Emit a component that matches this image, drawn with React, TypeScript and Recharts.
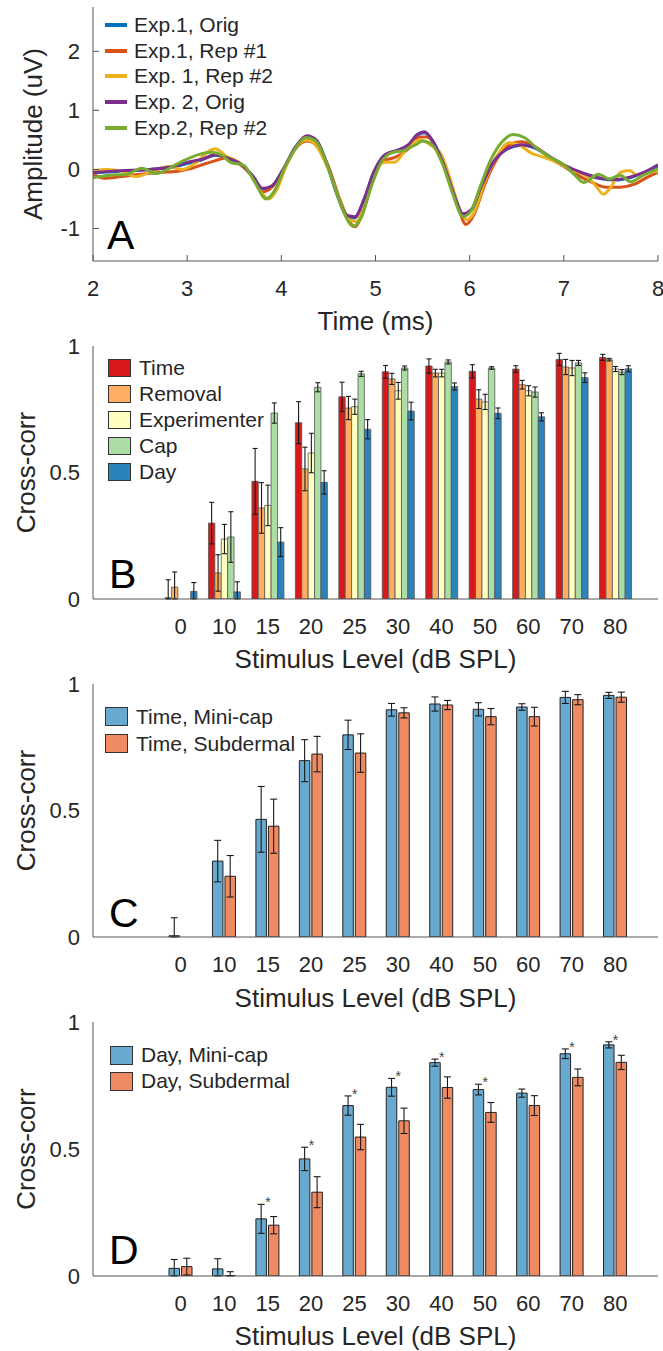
import React from "react";
import {
  LineChart, Line, BarChart, Bar, XAxis, YAxis, ErrorBar, LabelList, Legend,
} from "recharts";

const FONT = '"Liberation Sans", Arial, Helvetica, sans-serif';
const INK = "#262626";
const FRAME = "#555555";
const W = 663;

// ---- A: ABR waveforms, [time ms, amplitude uV]
const exp1Orig = [[2.0,-0.06],[2.3,-0.03],[2.6,0.0],[2.85,0.04],[3.0,0.1],[3.15,0.16],[3.3,0.24],[3.45,0.18],[3.58,0.08],[3.7,-0.12],[3.8,-0.33],[3.9,-0.28],[4.02,0.0],[4.15,0.37],[4.27,0.55],[4.37,0.49],[4.48,0.1],[4.6,-0.46],[4.7,-0.8],[4.78,-0.82],[4.88,-0.5],[4.98,-0.06],[5.1,0.24],[5.22,0.31],[5.35,0.41],[5.45,0.59],[5.52,0.62],[5.6,0.5],[5.72,0.1],[5.84,-0.46],[5.93,-0.76],[6.02,-0.68],[6.12,-0.3],[6.25,0.12],[6.38,0.33],[6.55,0.41],[6.68,0.37],[6.85,0.21],[7.0,0.07],[7.2,-0.07],[7.4,-0.16],[7.55,-0.18],[7.7,-0.14],[7.85,-0.06],[8.0,0.06]];
const exp1Rep1 = [[2.0,-0.08],[2.12,-0.15],[2.3,-0.12],[2.5,-0.08],[2.7,-0.05],[2.9,-0.03],[3.05,0.02],[3.2,0.1],[3.3,0.15],[3.42,0.2],[3.55,0.1],[3.68,-0.1],[3.8,-0.38],[3.9,-0.3],[4.02,0.0],[4.15,0.35],[4.27,0.48],[4.37,0.42],[4.5,0.05],[4.62,-0.5],[4.72,-0.88],[4.78,-0.97],[4.86,-0.75],[4.96,-0.25],[5.08,0.15],[5.2,0.2],[5.35,0.35],[5.47,0.55],[5.55,0.55],[5.65,0.35],[5.76,-0.1],[5.87,-0.6],[5.96,-0.93],[6.05,-0.75],[6.15,-0.3],[6.28,0.15],[6.42,0.42],[6.55,0.47],[6.7,0.38],[6.85,0.2],[7.0,0.05],[7.15,-0.1],[7.3,-0.22],[7.45,-0.3],[7.6,-0.3],[7.75,-0.25],[7.9,-0.12],[8.0,-0.05]];
const exp1Rep2 = [[2.0,-0.02],[2.15,0.0],[2.3,-0.03],[2.45,-0.12],[2.6,-0.05],[2.8,0.05],[2.95,0.0],[3.1,0.12],[3.22,0.3],[3.3,0.35],[3.42,0.22],[3.55,0.12],[3.68,-0.1],[3.8,-0.42],[3.87,-0.5],[3.95,-0.35],[4.05,0.05],[4.17,0.4],[4.27,0.5],[4.37,0.4],[4.5,0.0],[4.62,-0.5],[4.72,-0.85],[4.8,-0.88],[4.9,-0.45],[5.0,0.0],[5.1,0.12],[5.2,0.12],[5.33,0.35],[5.47,0.5],[5.58,0.42],[5.7,0.25],[5.8,-0.2],[5.9,-0.7],[5.97,-0.85],[6.05,-0.72],[6.15,-0.25],[6.28,0.2],[6.42,0.45],[6.52,0.42],[6.65,0.28],[6.8,0.2],[6.95,0.1],[7.1,-0.02],[7.25,-0.12],[7.35,-0.3],[7.42,-0.42],[7.5,-0.3],[7.6,-0.05],[7.7,-0.02],[7.78,-0.1],[7.88,-0.05],[8.0,-0.03]];
const exp2Orig = [[2.0,-0.05],[2.3,-0.02],[2.6,0.0],[2.85,0.05],[3.0,0.12],[3.15,0.17],[3.3,0.25],[3.45,0.18],[3.58,0.08],[3.7,-0.12],[3.8,-0.32],[3.9,-0.28],[4.02,0.0],[4.15,0.38],[4.27,0.57],[4.37,0.5],[4.48,0.12],[4.6,-0.45],[4.7,-0.78],[4.78,-0.8],[4.88,-0.5],[4.98,-0.05],[5.1,0.25],[5.22,0.32],[5.35,0.42],[5.45,0.6],[5.52,0.64],[5.6,0.5],[5.72,0.1],[5.84,-0.45],[5.93,-0.75],[6.02,-0.68],[6.12,-0.3],[6.25,0.12],[6.38,0.33],[6.55,0.42],[6.68,0.38],[6.85,0.22],[7.0,0.08],[7.2,-0.06],[7.4,-0.15],[7.55,-0.17],[7.7,-0.13],[7.85,-0.05],[8.0,0.08]];
const exp2Rep2 = [[2.0,-0.14],[2.18,-0.1],[2.36,-0.08],[2.52,0.02],[2.67,-0.07],[2.9,0.1],[3.12,0.25],[3.26,0.29],[3.37,0.24],[3.46,0.12],[3.6,0.07],[3.71,-0.19],[3.84,-0.5],[3.92,-0.38],[4.04,0.04],[4.16,0.38],[4.26,0.54],[4.36,0.49],[4.47,0.15],[4.58,-0.36],[4.67,-0.75],[4.76,-0.96],[4.85,-0.81],[4.94,-0.36],[5.06,0.12],[5.17,0.28],[5.3,0.32],[5.44,0.43],[5.5,0.48],[5.6,0.42],[5.71,0.1],[5.82,-0.41],[5.93,-0.8],[6.02,-0.69],[6.11,-0.3],[6.22,0.15],[6.34,0.46],[6.46,0.59],[6.58,0.54],[6.72,0.35],[6.85,0.21],[7.01,0.07],[7.12,-0.1],[7.21,-0.22],[7.37,-0.08],[7.48,-0.16],[7.6,-0.1],[7.71,-0.21],[7.84,-0.1],[8.0,0.01]];

const traces = [
  { name: "Exp.1, Orig", color: "#0072BD", pts: exp1Orig },
  { name: "Exp.1, Rep #1", color: "#D95319", pts: exp1Rep1 },
  { name: "Exp. 1, Rep #2", color: "#EDB120", pts: exp1Rep2 },
  { name: "Exp. 2, Orig", color: "#7E2F8E", pts: exp2Orig },
  { name: "Exp.2, Rep #2", color: "#77AC30", pts: exp2Rep2 },
];
const timeTicks = [2, 3, 4, 5, 6, 7, 8];
const ampTicks = [-1, 0, 1, 2];

// ---- B-D: cross-correlation by stimulus level
const levels = ["0", "10", "15", "20", "25", "30", "40", "50", "60", "70", "80"];
const timeMini = [0.005, 0.30, 0.465, 0.697, 0.799, 0.898, 0.921, 0.9, 0.909, 0.947, 0.955];
const timeMiniErr = [0.071, 0.082, 0.13, 0.083, 0.058, 0.025, 0.028, 0.026, 0.013, 0.024, 0.012];
const removal = [0.047, 0.103, 0.36, 0.514, 0.755, 0.87, 0.893, 0.79, 0.847, 0.917, 0.946];
const removalErr = [0.06, 0.072, 0.10, 0.086, 0.046, 0.022, 0.015, 0.037, 0.017, 0.03, 0.005];
const experimenter = [null, 0.237, 0.37, 0.577, 0.76, 0.823, 0.893, 0.779, 0.823, 0.913, 0.909];
const experimenterErr = [0, 0.058, 0.08, 0.078, 0.03, 0.033, 0.015, 0.03, 0.02, 0.03, 0.01];
const cap = [null, 0.245, 0.735, 0.837, 0.89, 0.913, 0.937, 0.913, 0.818, 0.933, 0.897];
const capErr = [0, 0.1, 0.04, 0.018, 0.01, 0.008, 0.008, 0.005, 0.02, 0.01, 0.01];
const dayMini = [0.03, 0.028, 0.225, 0.461, 0.671, 0.743, 0.84, 0.734, 0.72, 0.875, 0.91];
const dayMiniErr = [0.035, 0.04, 0.057, 0.046, 0.038, 0.035, 0.014, 0.021, 0.016, 0.019, 0.012];
const timeSub = [null, 0.24, 0.438, 0.723, 0.727, 0.886, 0.917, 0.871, 0.871, 0.938, 0.948];
const timeSubErr = [0, 0.082, 0.107, 0.07, 0.076, 0.02, 0.018, 0.032, 0.037, 0.02, 0.02];
const daySub = [0.037, 0.002, 0.20, 0.33, 0.547, 0.611, 0.742, 0.644, 0.671, 0.782, 0.841];
const daySubErr = [0.033, 0.015, 0.034, 0.061, 0.05, 0.05, 0.042, 0.039, 0.039, 0.033, 0.028];
const daySignif = [false, false, true, true, true, true, true, true, false, true, true];

const tickFont = { fontSize: 22, fill: INK, fontFamily: FONT };
const titleFont = { fontSize: 26, fill: INK, fontFamily: FONT };

const leftTick = (inner: boolean) => (p: any) => (
  <g>
    {inner && <line x1={p.x} x2={p.x + 6} y1={p.y} y2={p.y} stroke={FRAME} />}
    <text x={p.x - 13} y={p.y} dy="0.36em" textAnchor="end" {...tickFont}>{p.payload.value}</text>
  </g>
);
const bottomTick = (inner: boolean) => (p: any) => (
  <g>
    {inner && <line x1={p.x} x2={p.x} y1={p.y} y2={p.y - 6} stroke={FRAME} />}
    <text x={p.x} y={p.y + 35} textAnchor="middle" {...tickFont}>{p.payload.value}</text>
  </g>
);
const topTick = (p: any) => <line x1={p.x} x2={p.x} y1={p.y} y2={p.y + 6} stroke={FRAME} />;
const rightTick = (p: any) => <line x1={p.x} x2={p.x - 6} y1={p.y} y2={p.y} stroke={FRAME} />;

const legendBox = (order: string[], kind: "line" | "box", rowH: number, sw: [number, number]) =>
  (props: any) => {
    const items = [...(props.payload ?? [])].sort(
      (a: any, b: any) => order.indexOf(a.value) - order.indexOf(b.value));
    return (
      <div style={{ fontFamily: FONT, fontSize: 21, color: INK, whiteSpace: "nowrap" }}>
        {items.map((it: any) => (
          <div key={it.value} style={{ display: "flex", alignItems: "center", height: rowH }}>
            {kind === "line" ? (
              <span style={{ display: "inline-block", width: sw[0], height: sw[1], background: it.color, marginRight: 7 }} />
            ) : (
              <span style={{
                display: "inline-block", width: sw[0], height: sw[1], boxSizing: "border-box",
                background: it.payload?.fill ?? it.color, border: "1px solid #333", marginRight: 8,
              }} />
            )}
            <span>{it.value}</span>
          </div>
        ))}
      </div>
    );
  };

function WavePanel() {
  return (
    <LineChart width={W} height={340} margin={{ top: 7, right: 5, bottom: 0, left: 0 }}>
      <XAxis dataKey="t" type="number" domain={[2, 8]} ticks={timeTicks} allowDataOverflow interval={0}
        height={79} tickSize={0} tickMargin={0} tickLine={false} axisLine={{ stroke: FRAME }}
        tick={bottomTick(true)}
        label={{ value: "Time (ms)", position: "insideBottom", offset: 10, ...titleFont }} />
      <XAxis xAxisId="top" orientation="top" dataKey="t" type="number" domain={[2, 8]} ticks={timeTicks}
        allowDataOverflow interval={0} height={0} tickSize={0} tickMargin={0} tickLine={false}
        axisLine={{ stroke: FRAME }} tick={topTick} />
      <YAxis type="number" domain={[-1.55, 2.75]} ticks={ampTicks} allowDataOverflow interval={0}
        width={93} tickSize={0} tickMargin={0} tickLine={false} axisLine={{ stroke: FRAME }}
        tick={leftTick(true)}
        label={{ value: "Amplitude (uV)", angle: -90, position: "center", dx: -14, ...titleFont }} />
      <YAxis yAxisId="r" orientation="right" type="number" domain={[-1.55, 2.75]} ticks={ampTicks}
        allowDataOverflow interval={0} width={0} tickSize={0} tickMargin={0} tickLine={false}
        axisLine={{ stroke: FRAME }} tick={rightTick} />
      <Legend layout="vertical" align="center" verticalAlign="middle"
        wrapperStyle={{ left: 105, top: 12 }}
        content={legendBox(traces.map((t) => t.name), "line", 25.8, [22, 4])} />
      {traces.map((tr) => (
        <Line key={tr.name} data={tr.pts.map(([t, v]) => ({ t, v }))} dataKey="v" name={tr.name}
          type="monotone" stroke={tr.color} strokeWidth={3} dot={false} activeDot={false}
          isAnimationActive={false} />
      ))}
    </LineChart>
  );
}

type Series = { key: string; name: string; fill: string; vals: (number | null)[]; errs: number[] };

const renderStar = (p: any) => {
  const i = p.index;
  if (!daySignif[i]) return null;
  const vb = p.viewBox ?? p;
  const v = dayMini[i];
  const top = vb.y - (dayMiniErr[i] / v) * vb.height;
  return (
    <text x={vb.x + vb.width + 1.5} y={top + 3} textAnchor="middle" fontSize={14} fill="#444" fontFamily={FONT}>*</text>
  );
};

function BarPanel({ height, plotH, titleOffset, series, barSize, barGap, edge, edgeW, capW, legendPos, rowH, sw, starKey }: {
  height: number; plotH: number; titleOffset: number; series: Series[]; barSize: number; barGap: number;
  edge: string; edgeW: number; capW: number; legendPos: { left: number; top: number }; rowH: number;
  sw: [number, number]; starKey?: string;
}) {
  const rows = levels.map((lvl, i) => {
    const r: any = { lvl };
    series.forEach((s) => {
      const v = s.vals[i];
      r[s.key] = v;
      // the frame clips the lower whisker at zero
      r[s.key + "E"] = v == null || !s.errs[i] ? null : [Math.min(s.errs[i], v), s.errs[i]];
    });
    return r;
  });
  const pad = { left: 66, right: 21 };
  return (
    <BarChart width={W} height={height} data={rows} margin={{ top: 16, right: 5, bottom: 0, left: 0 }}
      barSize={barSize} barGap={barGap}>
      <XAxis dataKey="lvl" padding={pad} interval={0} height={height - 16 - plotH} tickSize={0}
        tickMargin={0} tickLine={false} axisLine={{ stroke: FRAME }} tick={bottomTick(false)}
        label={{ value: "Stimulus Level (dB SPL)", position: "insideBottom", offset: titleOffset, ...titleFont }} />
      <XAxis xAxisId="top" orientation="top" dataKey="lvl" padding={pad} height={0} tick={false}
        tickLine={false} axisLine={{ stroke: FRAME }} />
      <YAxis type="number" domain={[0, 1]} ticks={[0, 0.5, 1]} allowDataOverflow interval={0} width={93}
        tickSize={0} tickMargin={0} tickLine={false} axisLine={{ stroke: FRAME }} tick={leftTick(false)}
        label={{ value: "Cross-corr", angle: -90, position: "center", dx: -21, ...titleFont }} />
      <YAxis yAxisId="r" orientation="right" type="number" domain={[0, 1]} allowDataOverflow width={0}
        tick={false} tickLine={false} axisLine={{ stroke: FRAME }} />
      <Legend layout="vertical" align="center" verticalAlign="middle" wrapperStyle={legendPos}
        content={legendBox(series.map((s) => s.name), "box", rowH, sw)} />
      {series.map((s) => (
        <Bar key={s.key} dataKey={s.key} name={s.name} fill={s.fill} stroke={edge} strokeWidth={edgeW}
          isAnimationActive={false}>
          <ErrorBar dataKey={s.key + "E"} width={capW} stroke="#1a1a1a" strokeWidth={1.1} direction="y"
            isAnimationActive={false} />
          {starKey === s.key && <LabelList dataKey={s.key} content={renderStar} />}
        </Bar>
      ))}
    </BarChart>
  );
}

const factorSeries: Series[] = [
  { key: "time", name: "Time", fill: "#d7191c", vals: timeMini, errs: timeMiniErr },
  { key: "removal", name: "Removal", fill: "#fdae61", vals: removal, errs: removalErr },
  { key: "exper", name: "Experimenter", fill: "#ffffbf", vals: experimenter, errs: experimenterErr },
  { key: "cap", name: "Cap", fill: "#abdda4", vals: cap, errs: capErr },
  { key: "day", name: "Day", fill: "#2b83ba", vals: dayMini, errs: dayMiniErr },
];
const timeSeries: Series[] = [
  { key: "mini", name: "Time, Mini-cap", fill: "#67a9cf", vals: timeMini, errs: timeMiniErr },
  { key: "sub", name: "Time, Subdermal", fill: "#ef8a62", vals: timeSub, errs: timeSubErr },
];
const daySeries: Series[] = [
  { key: "mini", name: "Day, Mini-cap", fill: "#67a9cf", vals: dayMini, errs: dayMiniErr },
  { key: "sub", name: "Day, Subdermal", fill: "#ef8a62", vals: daySub, errs: daySubErr },
];

const panelLetters = [
  { t: "A", x: 107, y: 249 },
  { t: "B", x: 109, y: 588 },
  { t: "C", x: 109, y: 927 },
  { t: "D", x: 109, y: 1264 },
];

export default function App() {
  return (
    <div style={{ position: "absolute", left: 0, top: 0, width: W, height: 1351, background: "#fff", overflow: "hidden" }}>
      <div style={{ position: "absolute", left: 0, top: 0 }}>
        <WavePanel />
      </div>
      <div style={{ position: "absolute", left: 0, top: 330 }}>
        <BarPanel height={350} plotH={253} titleOffset={12} series={factorSeries} barSize={6.4} barGap={0}
          edge="#555" edgeW={0.8} capW={2.5} legendPos={{ left: 108, top: 25 }} rowH={26} sw={[23, 18]} />
      </div>
      <div style={{ position: "absolute", left: 0, top: 668 }}>
        <BarPanel height={350} plotH={253} titleOffset={11} series={timeSeries} barSize={10.5} barGap={2}
          edge="#222" edgeW={1} capW={3.5} legendPos={{ left: 105, top: 35 }} rowH={27} sw={[23, 19]} />
      </div>
      <div style={{ position: "absolute", left: 0, top: 1006 }}>
        <BarPanel height={345} plotH={254} titleOffset={6} series={daySeries} barSize={10.5} barGap={2}
          edge="#222" edgeW={1} capW={3.5} legendPos={{ left: 110, top: 36 }} rowH={26} sw={[23, 19]}
          starKey="mini" />
      </div>
      <svg width={W} height={1351} style={{ position: "absolute", left: 0, top: 0, pointerEvents: "none" }}>
        {panelLetters.map((l) => (
          <text key={l.t} x={l.x} y={l.y} fontSize={41} fill="#000" fontFamily={FONT}>{l.t}</text>
        ))}
      </svg>
    </div>
  );
}
